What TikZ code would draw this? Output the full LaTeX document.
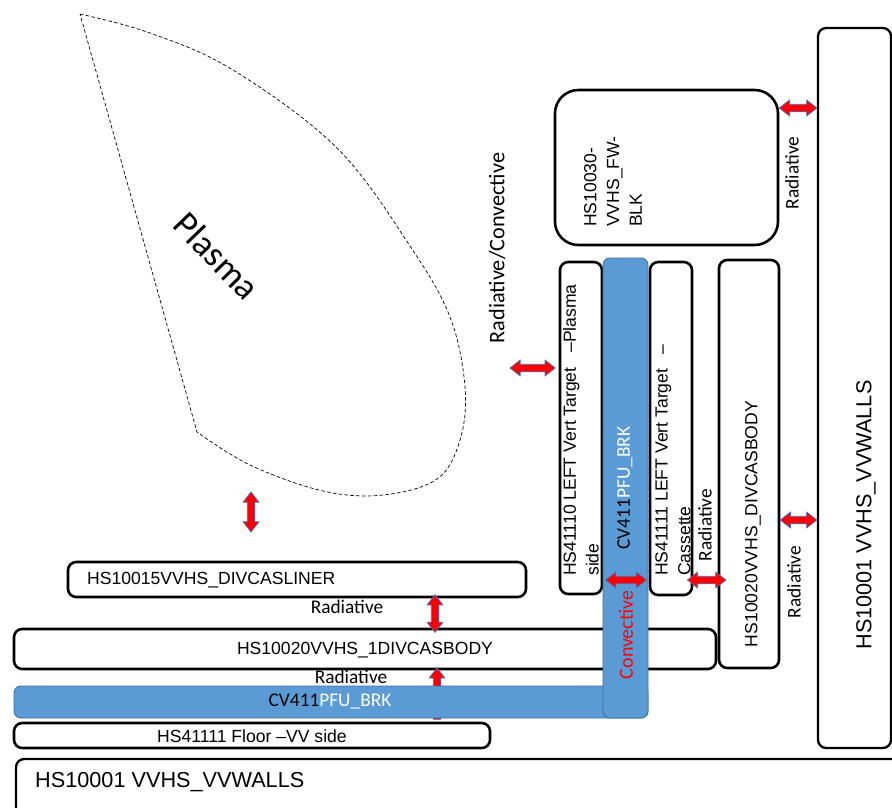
\documentclass[tikz,border=0pt]{standalone}
\usepackage{fontspec}
\newfontfamily\arialf{Liberation Sans}
\newfontfamily\calf{Carlito}
\usetikzlibrary{fit,calc,shapes.arrows}
\definecolor{pfublue}{HTML}{5B9BD5}
\definecolor{pfurim}{HTML}{41719C}
\definecolor{heatedge}{HTML}{4472C4}

\tikzset{
  wall/.style={draw, line width=2.2pt, rounded corners=7pt, inner sep=0pt, fill=white},
  pfu/.style={draw=pfurim, line width=0.8pt, fill=pfublue, rounded corners=6pt, inner sep=0pt},
  hslabel/.style={font=\arialf\fontsize{15}{19.5}\selectfont, inner sep=0pt},
  biglabel/.style={font=\arialf\fontsize{18.5}{22}\selectfont, inner sep=0pt},
  modelabel/.style={font=\calf\fontsize{16.5}{20}\selectfont, inner sep=0pt},
  heatboth/.style={double arrow, draw=heatedge, fill=red, line width=0.6pt, inner xsep=0pt, inner ysep=2.9pt,
    outer sep=0pt, double arrow head extend=3.6pt, double arrow tip angle=76},
  heatone/.style={single arrow, draw=heatedge, fill=red, line width=0.6pt, inner xsep=0pt, inner ysep=2.9pt,
    outer sep=0pt, single arrow head extend=3.6pt, single arrow tip angle=76},
}
\newcommand{\heat}[3][both]{\path let \p1=#2, \p2=#3, \n1={veclen(\x2-\x1,\y2-\y1)} in
  #2 -- #3 node[midway, sloped, heat#1, minimum height=\n1] {};}

\begin{document}
\begin{tikzpicture}[x=0.03cm, y=-0.03cm]
  \useasboundingbox (0,0) rectangle (892,807);
  \clip (0,0) rectangle (892,807);

  % plasma
  \draw[line width=0.6pt, dash pattern=on 3pt off 2pt] plot[smooth, tension=0.6] coordinates {(80,14) (150,33) (233,70) (337,148) (410,246) (450,317) (465,387) (460,440) (437,479) (383,495) (323,491) (250,465) (197,432)} -- cycle;
  \node[font=\calf\fontsize{31}{33}\selectfont, rotate=-46, inner sep=0pt] (plasma-t) at (217,256) {Plasma};

  \node[modelabel] (rad2) at (351,677) {Radiative};

  % walls and structures
  \node[wall, line width=2pt, fit={(16,759) (930,850)}] (vvwallB) {};
  \node[wall, line width=2pt, fit={(818,28) (891,748)}] (vvwallR) {};
  \node[wall, rounded corners=20pt, fit={(555,90) (778,245)}] (fwblk) {};
  \node[wall, fit={(68,562) (526,597)}] (liner) {};
  \node[wall, fit={(14,629) (716,669)}] (body1) {};
  \node[wall, fit={(719,260) (779,668)}] (divcasV) {};
  \node[wall, fit={(560,262) (602,594)}] (hs41110) {};
  \node[wall, fit={(650,262) (692,595)}] (hs41111) {};
  \node[wall, fit={(14,723) (490,748)}] (floor) {};

  \heat[one]{(floor.north -| 437,0)}{(body1.south -| 437,0)}

  % coolant channel
  \node[pfu, fit={(14,686) (648,718)}] (cvH) {};
  \node[pfu, fit={(603,258) (648,718)}] (cvV) {};

  % labels
  \node[biglabel, anchor=west] (vvwallB-t) at (35,782) {HS10001 VVHS\_VVWALLS};
  \node[biglabel, rotate=90] (vvwallR-t) at (866,515) {HS10001 VVHS\_VVWALLS};
  \node[hslabel, rotate=90, anchor=west, align=left] (fwblk-t) at (613,227) {HS10030-\\VVHS\_FW-\\BLK};
  \node[hslabel, rotate=90, anchor=west, align=left] (hs41110-t) at (581,576) {HS41110 LEFT Vert Target\ \ \ –Plasma\\side};
  \node[hslabel, rotate=90, anchor=west, align=left] (hs41111-t) at (673,576) {HS41111 LEFT Vert Target\ \ \ –\\Cassette};
  \node[hslabel, rotate=90] (divcasV-t) at (753,524) {HS10020VVHS\_DIVCASBODY};
  \node[hslabel, anchor=west] (liner-t) at (87,580) {HS10015VVHS\_DIVCASLINER};
  \node[hslabel] (body1-t) at (365,650) {HS10020VVHS\_1DIVCASBODY};
  \node[hslabel] (floor-t) at (252,736) {HS41111 Floor –VV side};
  \node[modelabel] (cvH-t) at (330,702) {CV411\textcolor{white}{PFU\_BRK}};
  \node[modelabel, rotate=90] (cvV-t) at (625,488) {CV411\textcolor{white}{PFU\_BRK}};
  \node[modelabel, font=\calf\fontsize{17}{20}\selectfont, red, rotate=90] (conv-t) at (626,635) {Convective};

  \node[modelabel] (rad1) at (347,607) {Radiative};
  \node[modelabel, rotate=90] (rad3) at (705,525) {Radiative};
  \node[modelabel, rotate=90] (rad4) at (792,173) {Radiative};
  \node[modelabel, rotate=90] (rad5) at (794,582) {Radiative};
  \node[modelabel, font=\calf\fontsize{19}{22}\selectfont, rotate=90] (radconv) at (497,248) {Radiative/Convective};

  % heat paths
  \coordinate (pl-a) at (251,492);
  \coordinate (pl-b) at (251,532);
  \coordinate (sol) at (510,368);
  \heat{(pl-a)}{(pl-b)}
  \heat{(sol)}{([xshift=-3pt]hs41110.west |- sol)}
  \heat{(fwblk.east |- 0,108)}{(vvwallR.west |- 0,108)}
  \heat{(divcasV.east |- 0,520)}{(vvwallR.west |- 0,520)}
  \heat{([xshift=2pt]hs41110.east |- 0,580)}{([xshift=-2pt]hs41111.west |- 0,580)}
  \heat{([xshift=-5pt]hs41111.east |- 0,580)}{([xshift=7pt]divcasV.west |- 0,580)}
  \heat{([yshift=3pt]liner.south -| 435,0)}{([yshift=-4pt]body1.north -| 435,0)}
\end{tikzpicture}
\end{document}
